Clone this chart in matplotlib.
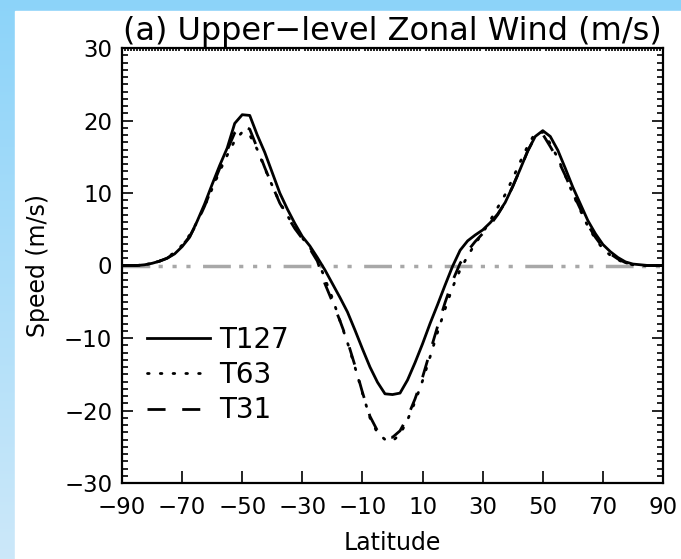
import numpy as np
import matplotlib
matplotlib.use('Agg')
import matplotlib.pyplot as plt
from matplotlib.patches import Rectangle
from matplotlib.ticker import MultipleLocator

plt.rcParams['font.family'] = ['DejaVu Sans']
plt.rcParams['lines.scale_dashes'] = False

# latitude grid, values every 2.5 deg
lat = np.arange(-90, 90.1, 2.5)
t127 = [0, 0, 0, 0.1, 0.3, 0.6, 1.0, 1.6, 2.6, 3.9, 6.1, 8.5, 11.2, 13.8, 16.2, 19.6,
        20.8, 20.7, 18.0, 15.6, 12.8, 10.0, 7.8, 5.8, 4.0, 2.7, 1.1, -0.6, -2.5, -4.4,
        -6.4, -8.9, -11.5, -14.0, -16.1, -17.7, -17.8, -17.6, -15.8, -13.4, -10.8, -8.0,
        -5.4, -2.7, -0.1, 2.1, 3.4, 4.2, 4.9, 5.9, 7.1, 8.7, 10.9, 13.3, 15.8, 17.8,
        18.6, 17.8, 15.9, 13.4, 10.8, 8.5, 6.2, 4.4, 2.9, 1.9, 1.1, 0.5, 0.2, 0.1, 0, 0, 0]
t63 = [0, 0, 0, 0.1, 0.3, 0.6, 1.1, 1.8, 2.8, 4.2, 6.0, 8.2, 10.6, 13.0, 15.2, 17.2,
       18.4, 18.0, 16.0, 13.4, 11.0, 8.7, 6.9, 5.2, 3.8, 2.5, 0.9, -1.8, -4.5, -7.6,
       -10.6, -14.0, -17.6, -21.0, -23.1, -24.0, -24.2, -23.3, -21.3, -18.8, -15.9, -12.6,
       -9.2, -6.0, -3.0, -0.6, 1.3, 3.0, 4.5, 6.2, 8.0, 9.8, 12.0, 14.3, 16.5, 18.3,
       18.4, 16.8, 14.8, 12.4, 9.9, 7.6, 5.4, 3.7, 2.3, 1.4, 0.8, 0.3, 0.1, 0, 0, 0, 0]
t31 = [0, 0, 0, 0.1, 0.3, 0.6, 1.0, 1.7, 2.7, 4.0, 5.9, 8.2, 10.8, 13.4, 15.9, 18.3,
       19.4, 18.8, 16.2, 13.5, 11.0, 8.6, 6.8, 5.1, 3.7, 2.3, 0.6, -2.5, -5.0, -7.6,
       -10.4, -13.8, -17.5, -20.8, -22.8, -23.6, -23.7, -22.8, -20.9, -18.4, -15.4, -11.9,
       -8.4, -5.1, -2.1, 0.3, 2.0, 3.3, 4.4, 5.6, 7.0, 8.7, 10.9, 13.3, 15.8, 17.8,
       18.1, 16.4, 14.6, 12.4, 10.0, 7.8, 5.6, 3.9, 2.5, 1.6, 0.9, 0.4, 0.1, 0, 0, 0, 0]

fig = plt.figure(figsize=(6.81, 5.59), dpi=100)

# blue frame behind the white page
bg = fig.add_axes([0, 0, 1, 1], zorder=-10)
grad = np.linspace(0, 1, 256).reshape(-1, 1)
top = np.array([0.55, 0.83, 0.98])
bot = np.array([0.80, 0.91, 0.98])
img = top + (bot - top) * grad[:, :, None]
bg.imshow(img, aspect='auto', extent=[0, 1, 0, 1], origin='upper')
bg.add_patch(Rectangle((15 / 681, 0), 1, 1 - 11 / 559, color='white', transform=bg.transAxes))
bg.set_xlim(0, 1)
bg.set_ylim(0, 1)
bg.axis('off')

ax = fig.add_axes([122 / 681, 1 - 483 / 559, (663 - 122) / 681, (483 - 48) / 559])
ax.set_facecolor('none')

ax.axhline(0, color='#a8a8a8', lw=2.5,
           dashes=(20, 6, 3, 7, 3, 7, 3, 9))
ax.plot(lat, t127, color='black', lw=2.0, label='T127')
ax.plot(lat, t63, color='black', lw=2.0, dashes=(1.2, 8), dash_capstyle='round', label='T63')
ax.plot(lat, t31, color='black', lw=2.0, dashes=(13, 12), label='T31')

ax.set_xlim(-90, 90)
ax.set_ylim(-30, 30)
ax.set_xticks(np.arange(-90, 91, 20))
ax.set_yticks(np.arange(-30, 31, 10))
ax.yaxis.set_minor_locator(MultipleLocator(1))
ax.xaxis.set_minor_locator(MultipleLocator(1))
ax.tick_params(axis='both', which='both', direction='in', labelsize=16.5, width=1.2)
ax.tick_params(axis='x', which='major', length=9, top=False, pad=9)
ax.tick_params(axis='y', which='major', length=8, right=True, pad=7)
ax.tick_params(axis='y', which='minor', length=4, right=True)
ax.tick_params(axis='x', which='minor', top=True, bottom=False, length=2)
for s in ax.spines.values():
    s.set_linewidth(1.6)

ax.set_title('(a) Upper\u2212level Zonal Wind (m/s)', fontsize=23, pad=6)
ax.set_xlabel('Latitude', fontsize=17, labelpad=9)
ax.set_ylabel('Speed (m/s)', fontsize=17, labelpad=10)

ax.legend(loc='upper left', bbox_to_anchor=(0.021, 0.393), frameon=False, fontsize=20,
          handlelength=2.25, handletextpad=0.35, labelspacing=0.26, borderpad=0)

fig.savefig('out.png', dpi=100)
